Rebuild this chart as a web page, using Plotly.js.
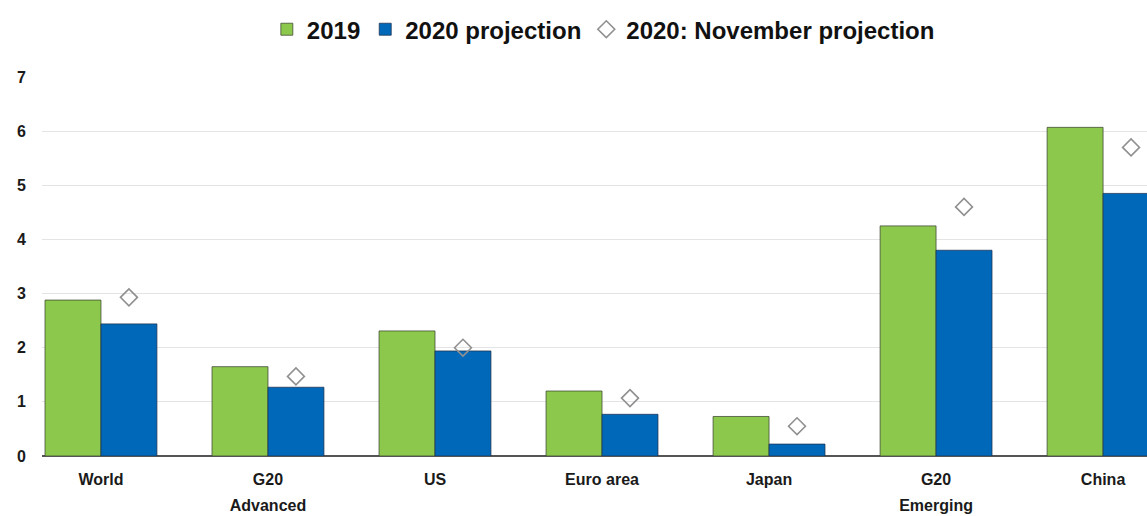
<!DOCTYPE html>
<html>
<head>
<meta charset="utf-8">
<script src="https://cdn.plot.ly/plotly-3.0.1.min.js"></script>
<style>
html,body{margin:0;padding:0;background:#fff;}
#chart{width:1147px;height:516px;}
</style>
</head>
<body>
<div id="chart"></div>
<script>
var categories = ["World", "G20<br>Advanced", "US", "Euro area", "Japan", "G20<br>Emerging", "China"];
var values2019 = [2.88, 1.65, 2.31, 1.20, 0.73, 4.25, 6.07];
var values2020 = [2.44, 1.27, 1.94, 0.77, 0.22, 3.80, 4.85];
var valuesNov = [2.93, 1.47, 2.00, 1.07, 0.55, 4.60, 5.70];
var yTicks = [0, 1, 2, 3, 4, 5, 6, 7];

var idx = categories.map(function(_, i){ return i; });
var bargap = 0.33;
var barW = (1 - bargap) / 2;
var novX = idx.map(function(i){ return i + barW / 2; });

var fontFam = '"Liberation Sans Narrow", "Liberation Sans", Arial, sans-serif';

var traces = [
  {type: 'bar', name: '2019', x: idx, y: values2019,
   marker: {color: '#8cc84b', line: {color: 'rgba(60,70,50,0.75)', width: 1}}},
  {type: 'bar', name: '2020 projection', x: idx, y: values2020,
   marker: {color: '#0068b8', line: {color: 'rgba(30,50,80,0.75)', width: 1}}},
  {type: 'scatter', mode: 'markers', name: '2020: November projection', x: novX, y: valuesNov,
   marker: {symbol: 'diamond-open', size: 13, color: '#909090', line: {width: 1.6, color: '#909090'}}}
];

var layout = {
  width: 1147, height: 516,
  margin: {l: 42, r: 0, t: 77, b: 60},
  paper_bgcolor: '#ffffff', plot_bgcolor: '#ffffff',
  barmode: 'group', bargap: bargap, bargroupgap: 0,
  font: {family: fontFam, color: '#1a1a1a'},
  showlegend: true,
  legend: {orientation: 'h', x: 0.508, xanchor: 'center', y: 1.125, yanchor: 'middle',
           font: {family: fontFam, size: 24, color: '#111', weight: 'bold'},
           itemwidth: 30, tracegroupgap: 0},
  xaxis: {
    type: 'linear', range: [-0.353, 6.263],
    tickmode: 'array', tickvals: idx, ticktext: categories,
    ticks: '', showgrid: false, zeroline: false, showline: false,
    ticklabelstandoff: 12,
    tickfont: {family: fontFam, size: 16, color: '#1a1a1a', weight: 'bold'}
  },
  yaxis: {
    range: [0, 7], tickmode: 'array', tickvals: yTicks,
    ticks: '', showgrid: true, gridcolor: '#e4e4e4', gridwidth: 1,
    zeroline: true, zerolinecolor: '#555555', zerolinewidth: 1.5,
    showline: false, ticklabelstandoff: 15,
    tickfont: {family: fontFam, size: 16, color: '#1a1a1a', weight: 'bold'}
  }
};

Plotly.newPlot('chart', traces, layout, {displayModeBar: false, staticPlot: true}).then(function(gd){
  var lines = gd.querySelectorAll('.xtick text tspan.line');
  lines.forEach(function(t){
    if (t.getAttribute('dy') && t.getAttribute('dy') !== '0em') { t.setAttribute('dy', '1.65em'); }
  });
});
</script>
</body>
</html>
